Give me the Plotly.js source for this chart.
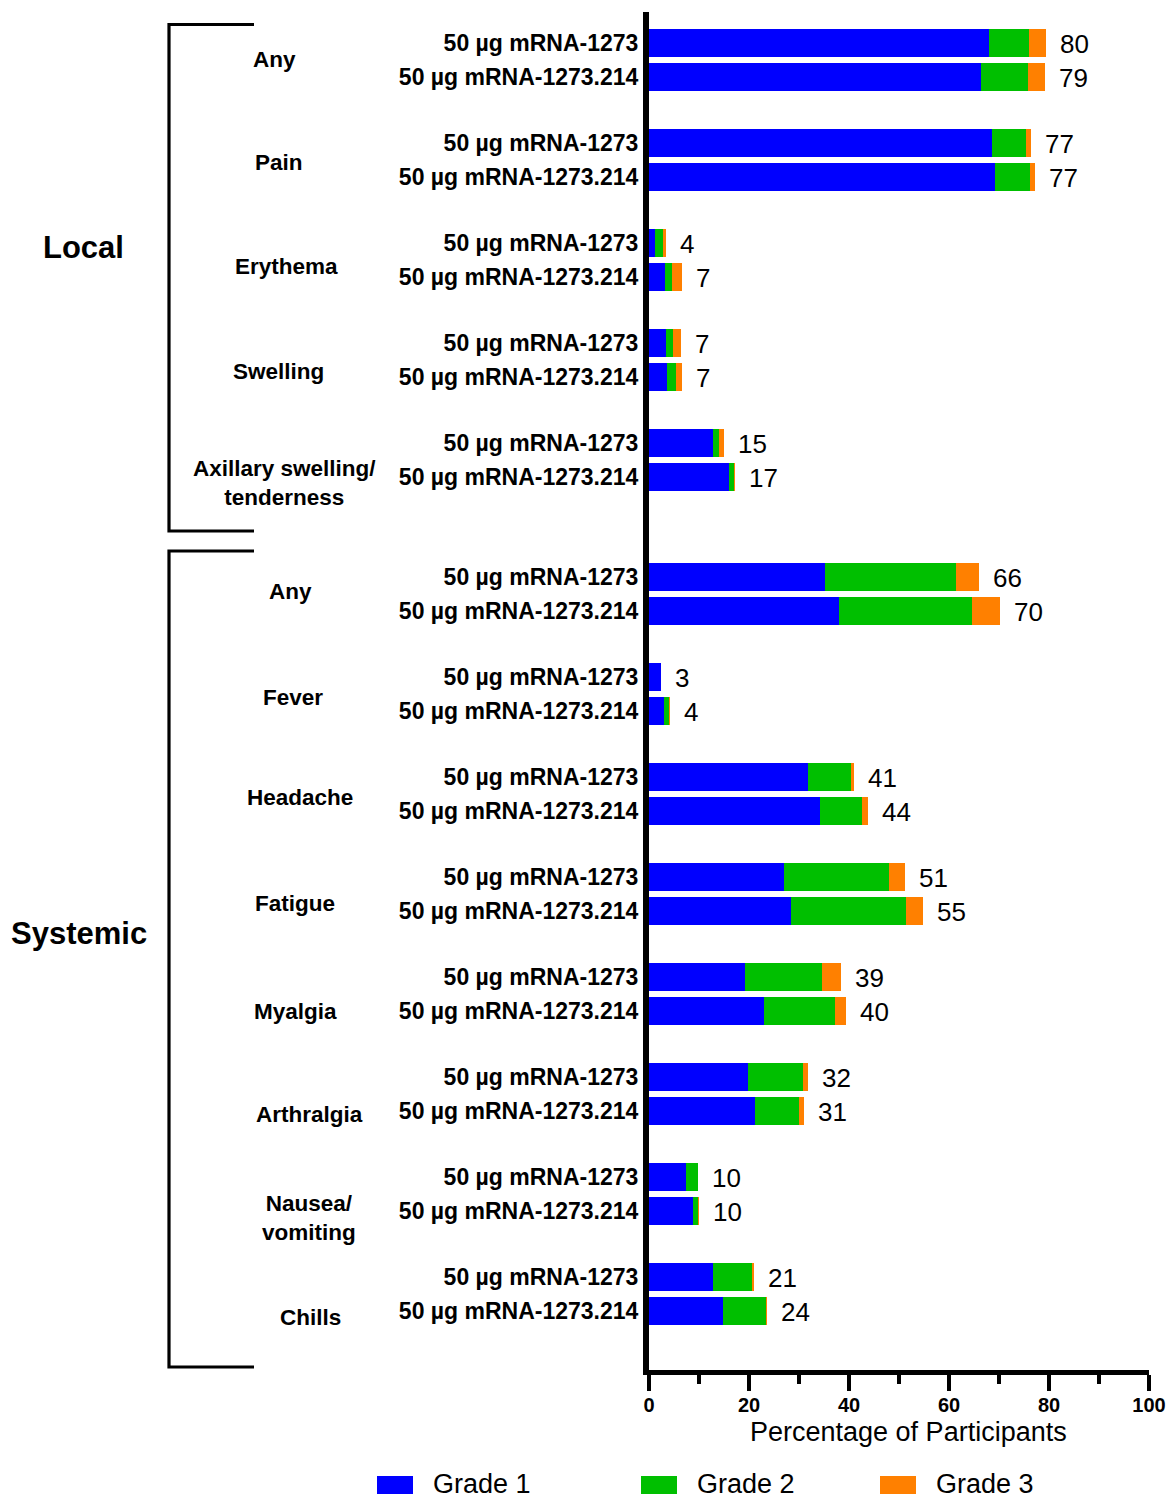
<!DOCTYPE html>
<html>
<head>
<meta charset="utf-8">
<script src="https://cdn.plot.ly/plotly-3.0.1.min.js"></script>
<style>
  html, body { margin: 0; padding: 0; background: #fff; }
  #chart { width: 1167px; height: 1498px; }
</style>
</head>
<body>
<div id="chart"></div>
<script>
// ---------------- DATA ----------------
const categories = ["Any", "Pain", "Erythema", "Swelling", "Axillary swelling/<br>tenderness",
                    "Any", "Fever", "Headache", "Fatigue", "Myalgia", "Arthralgia", "Nausea/<br>vomiting", "Chills"];
const groupNames = ["Local", "Systemic"];
const groupSizes = [5, 8];
const vaccines = ["50 µg mRNA-1273", "50 µg mRNA-1273.214"];
const gradeNames = ["Grade 1", "Grade 2", "Grade 3"];

const grade1_1273 = [67.9, 68.6, 1.2, 3.4, 12.8, 35.1, 2.3, 31.7, 26.9, 19.2, 19.8, 7.4, 12.8];
const grade2_1273 = [8.0, 6.8, 1.6, 1.4, 1.2, 26.2, 0.0, 8.7, 21.1, 15.4, 10.9, 2.4, 7.8];
const grade3_1273 = [3.5, 1.0, 0.6, 1.5, 1.0, 4.6, 0.0, 0.6, 3.1, 3.7, 1.0, 0.0, 0.3];
const totals_1273 = [80, 77, 4, 7, 15, 66, 3, 41, 51, 39, 32, 10, 21];

const grade1_214 = [66.4, 69.1, 3.2, 3.6, 16.0, 38.0, 2.9, 34.1, 28.3, 22.9, 21.2, 8.7, 14.7];
const grade2_214 = [9.4, 7.1, 1.4, 1.8, 0.9, 26.5, 1.0, 8.5, 23.1, 14.2, 8.7, 1.1, 8.7];
const grade3_214 = [3.4, 1.0, 2.0, 1.1, 0.2, 5.6, 0.2, 1.1, 3.4, 2.3, 1.0, 0.2, 0.1];
const totals_214 = [79, 77, 7, 7, 17, 70, 4, 44, 55, 40, 31, 10, 24];

// ---------------- LAYOUT HELPERS ----------------
const W = 1167, H = 1498;
const M = { l: 649, r: 18, t: 12, b: 128 };
const plotW = W - M.l - M.r, plotH = H - M.t - M.b;
const px2x = p => (p - M.l) / plotW;            // pixel x -> paper x
const px2y = p => (H - M.b - p) / plotH;        // pixel y -> paper y
const colors = ["#0000FF", "#00BF00", "#FF8000"];
const FONT = "Liberation Sans, Arial, Helvetica, sans-serif";

// y axis uses pixel-like units (range top 12 -> bottom 1370)
const groupCenter = k => 60 + 100 * k + (k >= groupSizes[0] ? 34 : 0);
const rowY = [], rowText = [];
categories.forEach((c, k) => {
  rowY.push(groupCenter(k) - 17, groupCenter(k) + 17);
  rowText.push(vaccines[0], vaccines[1]);
});

const interleave = (a, b) => a.flatMap((v, i) => [v, b[i]]);
const gradeSeries = [
  interleave(grade1_1273, grade1_214),
  interleave(grade2_1273, grade2_214),
  interleave(grade3_1273, grade3_214)
];
const totals = interleave(totals_1273, totals_214);

const traces = gradeSeries.map((xs, g) => ({
  type: "bar",
  orientation: "h",
  name: gradeNames[g],
  x: xs,
  y: rowY,
  width: 28,
  marker: { color: colors[g], line: { width: 0 } },
  showlegend: false,
  hoverinfo: "x+name"
}));

const annotations = [];
// value labels
rowY.forEach((y, i) => {
  const end = gradeSeries[0][i] + gradeSeries[1][i] + gradeSeries[2][i];
  annotations.push({
    x: end, y: y, xref: "x", yref: "y", text: String(totals[i]),
    showarrow: false, xanchor: "left", yanchor: "middle", xshift: 12, yshift: -1,
    font: { family: FONT, size: 26, color: "#000" }
  });
});

// category labels (pixel positions)
const catLabelPos = [[274, 60], [279, 162], [286, 266], [278, 372], [284, 483],
                     [290, 591], [293, 697], [300, 798], [295, 903], [295, 1011],
                     [309, 1114], [309, 1218], [310, 1317]];
categories.forEach((c, k) => {
  annotations.push({
    x: px2x(catLabelPos[k][0]), y: px2y(catLabelPos[k][1]), xref: "paper", yref: "paper",
    text: "<b>" + c.replace("<br>", "</b><br><b>") + "</b>",
    showarrow: false, xanchor: "center", yanchor: "middle", align: "center",
    font: { family: FONT, size: 22.5, color: "#000" }
  });
});

// group labels
const groupLabelPos = [[83, 247], [79, 933]];
groupNames.forEach((g, i) => {
  annotations.push({
    x: px2x(groupLabelPos[i][0]), y: px2y(groupLabelPos[i][1]), xref: "paper", yref: "paper",
    text: "<b>" + g + "</b>", showarrow: false, xanchor: "center", yanchor: "middle",
    font: { family: FONT, size: 31, color: "#000" }
  });
});

// brackets
const shapes = [];
const brackets = [[24.5, 531], [551, 1367]];
brackets.forEach(([top, bot]) => {
  shapes.push({
    type: "path", xref: "paper", yref: "paper",
    path: `M ${px2x(254)},${px2y(top)} L ${px2x(169)},${px2y(top)} L ${px2x(169)},${px2y(bot)} L ${px2x(254)},${px2y(bot)}`,
    line: { color: "#000", width: 3.2 }
  });
});

// legend (drawn manually to match swatch size)
const legendSwatchX = [377, 641, 880];
gradeNames.forEach((g, i) => {
  shapes.push({
    type: "rect", xref: "paper", yref: "paper",
    x0: px2x(legendSwatchX[i]), x1: px2x(legendSwatchX[i] + 36),
    y0: px2y(1476), y1: px2y(1494),
    fillcolor: colors[i], line: { width: 0 }
  });
  annotations.push({
    x: px2x(legendSwatchX[i] + 55), y: px2y(1484), xref: "paper", yref: "paper",
    text: g, showarrow: false, xanchor: "left", yanchor: "middle",
    height: 26, valign: "middle", borderpad: 0,
    font: { family: FONT, size: 27, color: "#000" }
  });
});

// x-axis title placed to match reference
annotations.push({
  x: px2x(908), y: px2y(1432), xref: "paper", yref: "paper",
  text: "Percentage of Participants", showarrow: false, xanchor: "center", yanchor: "middle",
  font: { family: FONT, size: 27, color: "#000" }
});

const layout = {
  width: W, height: H,
  margin: M,
  paper_bgcolor: "#fff", plot_bgcolor: "#fff",
  barmode: "stack",
  bargap: 0,
  showlegend: false,
  xaxis: {
    range: [0, 100],
    tickvals: [0, 20, 40, 60, 80, 100],
    ticks: "outside", ticklen: 16, tickwidth: 4, tickcolor: "#000",
    minor: { dtick: 10, tick0: 0, ticks: "outside", ticklen: 9, tickwidth: 4, tickcolor: "#000", showgrid: false },
    showline: true, linewidth: 5, linecolor: "#000",
    showgrid: false, zeroline: false,
    tickfont: { family: FONT, size: 20, weight: "bold", color: "#000" },
    ticklabelstandoff: -3,
    fixedrange: true
  },
  yaxis: {
    range: [H - M.b, M.t],
    tickvals: rowY, ticktext: rowText,
    ticks: "", showline: true, linewidth: 6, linecolor: "#000",
    showgrid: false, zeroline: false,
    tickfont: { family: FONT, size: 23, weight: "bold", color: "#000" },
    ticklabelstandoff: 0,
    fixedrange: true
  },
  annotations: annotations,
  shapes: shapes
};

Plotly.newPlot("chart", traces, layout, { displayModeBar: false, staticPlot: true });
</script>
</body>
</html>
